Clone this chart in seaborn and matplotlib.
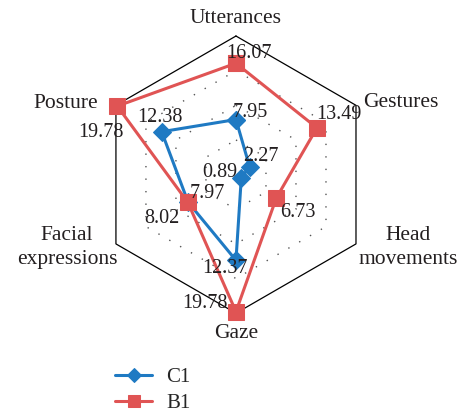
import numpy as np
import matplotlib
matplotlib.use("Agg")
import matplotlib.pyplot as plt
import seaborn as sns

# ==========================================
# DATA
# ==========================================
categories = ["Utterances", "Gestures", "Head\nmovements", "Gaze", "Facial\nexpressions", "Posture"]
c1_values = [7.95, 2.27, 0.89, 12.37, 7.97, 12.38]
b1_values = [16.07, 13.49, 6.73, 19.78, 8.02, 19.78]
ring_levels = [5, 10, 15]
r_max = 20

# label offsets in pixels (layout only)
c1_offsets = [(14, 7), (11, 10), (-21, 5), (-11, -8), (19, 9), (-2, 14)]
b1_offsets = [(13, 10), (22, 13), (21, -15), (-31, 8), (-26, -16), (-16, -26)]
cat_offsets = [(0, 18), (45, 3), (52, -4), (0, -20), (-49, -4), (-50, 2)]

blue = "#1f7ac3"
red = "#e05454"

# ==========================================
# FIGURE
# ==========================================
sns.set_theme(style="white")
plt.rcParams["font.family"] = ["Liberation Serif", "DejaVu Serif"]
fs_num = 14.5
fs_cat = 15.5

fig = plt.figure(figsize=(4.65, 4.13), dpi=100)
ax = fig.add_axes([0.2094, 0.2416, 0.5961, 0.6712], projection="polar")
ax.set_theta_offset(np.pi / 2)
ax.set_theta_direction(-1)
ax.set_ylim(0, r_max)
ax.grid(False)
ax.spines["polar"].set_visible(False)
ax.set_xticks([])
ax.set_yticks([])

n = len(categories)
theta = np.arange(n) * 2 * np.pi / n
theta_closed = np.append(theta, theta[0])

# hexagonal grid
for lvl in ring_levels:
    ax.plot(theta_closed, [lvl] * (n + 1), color="#555555", lw=1.0,
            ls=(0, (1, 8)), zorder=1)
ax.plot(theta_closed, [r_max] * (n + 1), color="black", lw=0.9, zorder=1, clip_on=False)

# series
series = [("C1", c1_values, blue, "D", 9), ("B1", b1_values, red, "s", 11.5)]
for name, vals, color, marker, ms in series:
    closed = list(vals) + [vals[0]]
    sns.lineplot(x=theta_closed, y=closed, sort=False, estimator=None, ax=ax,
                 color=color, lw=2.2, marker=marker, markersize=ms,
                 markeredgecolor=color, label=name, zorder=3, clip_on=False)

# data labels
for vals, offs in [(c1_values, c1_offsets), (b1_values, b1_offsets)]:
    for t, v, (dx, dy) in zip(theta, vals, offs):
        ax.annotate(f"{v:.2f}", (t, v), xytext=(dx, dy), textcoords="offset pixels",
                    ha="center", va="center", fontsize=fs_num, color="#231f20", zorder=5)

# category labels
for t, lab, (dx, dy) in zip(theta, categories, cat_offsets):
    ax.annotate(lab, (t, r_max), xytext=(dx, dy), textcoords="offset pixels",
                ha="center", va="center", fontsize=fs_cat, color="#231f20",
                linespacing=1.35, annotation_clip=False)

handles, labels = ax.get_legend_handles_labels()
ax.get_legend().remove()
fig.legend(handles, labels, loc="lower left", bbox_to_anchor=(0.247, 0.0),
           frameon=False, fontsize=15, handlelength=1.8, handletextpad=0.65,
           labelspacing=0.3, borderpad=0, borderaxespad=0, markerscale=0.8)

fig.savefig("out.png", dpi=100)
